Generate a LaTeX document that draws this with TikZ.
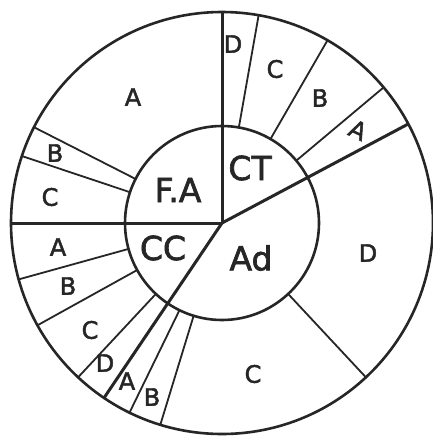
\documentclass[tikz,border=0pt]{standalone}
\usepackage{fontspec}
\setmainfont{DejaVu Sans}
\newfontfamily\handfont[BoldFont={DejaVu Sans},BoldFeatures={FakeBold=2}]{DejaVu Sans}
\begin{document}
\begin{tikzpicture}[x=1pt,y=1pt,
  ink/.style={draw=black!85},
  mainline/.style={ink,line width=3pt},
  subline/.style={ink,line width=1.8pt},
  ring/.style={ink,line width=2.6pt},
  outerlab/.style={text=black!85,font=\handfont\bfseries\fontsize{24}{26}\selectfont},
  innerlab/.style={text=black!85,font=\handfont\bfseries\fontsize{33}{35}\selectfont}]
\useasboundingbox (0,-440) rectangle (433,0);
\fill[white] (0,-440) rectangle (433,0);
\clip (0,-440) rectangle (433,0);
\coordinate (c) at (222,-223);
\draw[ring] (c) circle (211);
\draw[ring] (c) circle (97);
\foreach \a in {28,90,180,236}
  \draw[mainline] (c) -- ([shift={(\a:211)}]c);
\foreach \a in {40,60,80,153,161.5,195.5,209,227,244,253,313}
  \draw[subline] ([shift={(\a:97)}]c) -- ([shift={(\a:211)}]c);
% inner labels
\node[innerlab] (fa) at (178,-190) {F.A};
\node[innerlab] (ct) at (250,-168) {CT};
\node[innerlab] (cc) at (163,-248) {CC};
\node[innerlab] (ad) at (251,-258) {Ad};
% outer labels
\node[outerlab] (faA) at (133,-97) {A};
\node[outerlab] (faB) at (55,-153) {B};
\node[outerlab] (faC) at (50,-197) {C};
\node[outerlab] (ctD) at (233,-44) {D};
\node[outerlab] (ctC) at (275,-69) {C};
\node[outerlab] (ctB) at (320,-98) {B};
\node[outerlab,rotate=-25] (ctA) at (358,-130) {A};
\node[outerlab] (ccA) at (58,-247) {A};
\node[outerlab] (ccB) at (68,-286) {B};
\node[outerlab] (ccC) at (90,-330) {C};
\node[outerlab] (ccD) at (105,-363) {D};
\node[outerlab] (adA) at (127,-381) {A};
\node[outerlab] (adB) at (152,-397) {B};
\node[outerlab] (adC) at (253,-374) {C};
\node[outerlab] (adD) at (368,-253) {D};
\end{tikzpicture}
\end{document}
